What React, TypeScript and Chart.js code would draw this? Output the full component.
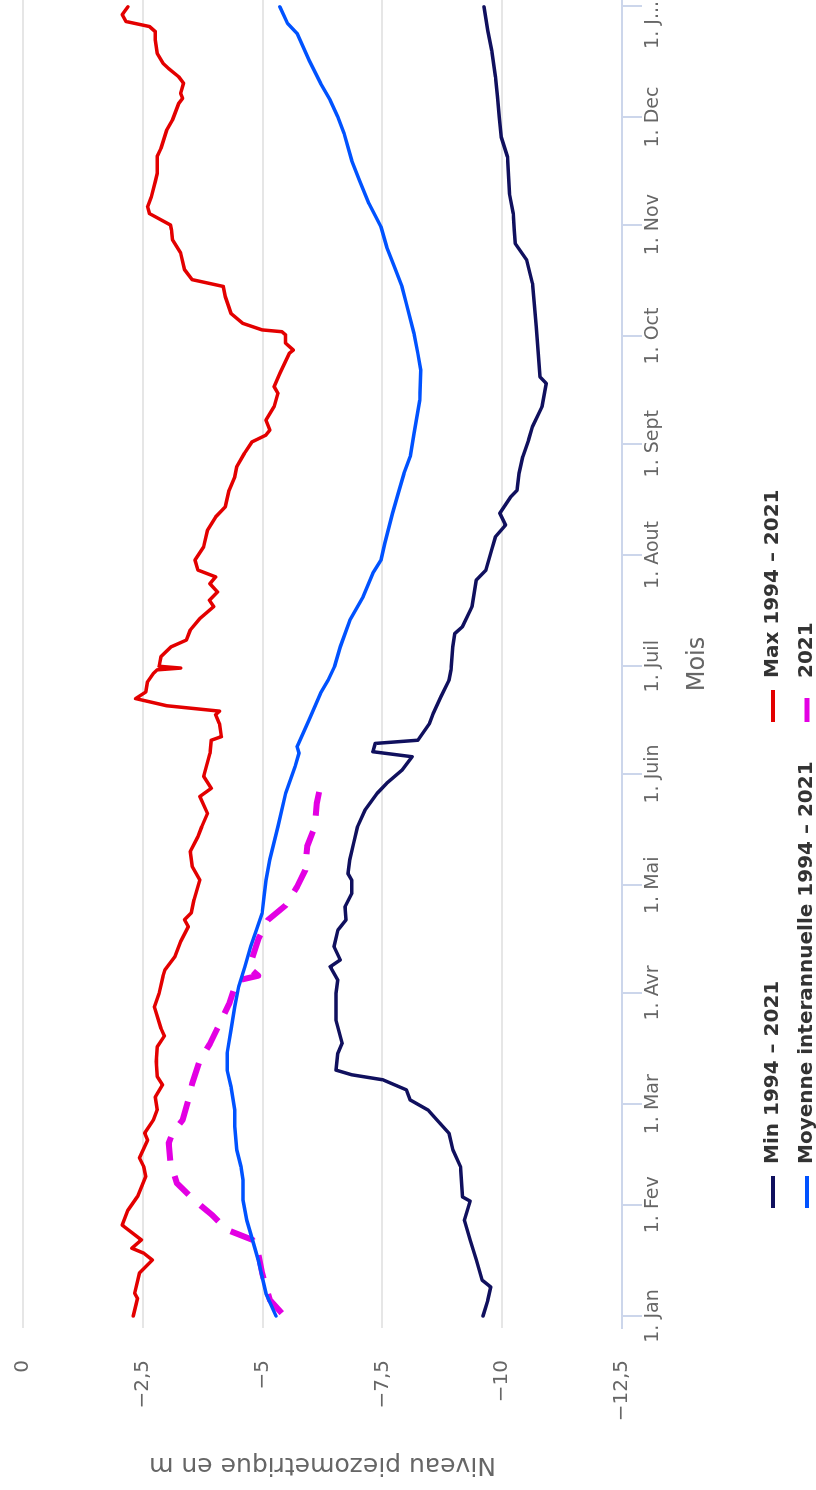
import React, { useEffect, useRef } from "react";
import { Chart, registerables } from "chart.js";

Chart.register(...registerables);

// Day of year (0 = 1 Jan) -> groundwater level (m)
const monthTickDays = [0, 31, 59, 90, 120, 151, 181, 212, 243, 273, 304, 334, 365];
const monthTickLabels = ["1. Jan", "1. Fev", "1. Mar", "1. Avr", "1. Mai", "1. Juin", "1. Juil", "1. Aout", "1. Sept", "1. Oct", "1. Nov", "1. Dec", "1. J..."];
const levelTicks = [0, -2.5, -5, -7.5, -10, -12.5];

const minSeries: [number, number][] = [
  [0, -9.6], [4.4, -9.7], [8.1, -9.76], [10, -9.58], [15.6, -9.46], [21.2, -9.33], [26.7, -9.21], [32, -9.33],
  [33.2, -9.17], [41.6, -9.13], [46.3, -8.97], [50.9, -8.89], [54.6, -8.64], [57.4, -8.45], [60.2, -8.08],
  [63, -8.0], [65.8, -7.51], [67.2, -6.86], [68.5, -6.53], [73.2, -6.57], [76, -6.66], [82.5, -6.53],
  [89.9, -6.53], [93.6, -6.57], [97.3, -6.41], [99.2, -6.62], [102.9, -6.49], [107.5, -6.57], [110.3, -6.74],
  [114, -6.72], [117.7, -6.86], [121.4, -6.86], [123.3, -6.78], [127.1, -6.82], [131.7, -6.9], [136.3, -6.98],
  [141, -7.14], [145.6, -7.39], [148.4, -7.59], [152.1, -7.91], [155.8, -8.12], [157.2, -7.3], [159.5, -7.35],
  [160.4, -8.24], [165, -8.48], [167.8, -8.56], [172.5, -8.72], [177.1, -8.89], [180, -8.93], [186.4, -8.97],
  [190.1, -9.01], [192, -9.17], [197.6, -9.37], [205, -9.46], [207.8, -9.66], [213.4, -9.78], [217.1, -9.86],
  [220.3, -10.07], [223.6, -9.95], [228.2, -10.18], [230, -10.31], [234.7, -10.35], [239.4, -10.43],
  [244, -10.55], [247.7, -10.63], [253.3, -10.83], [259.8, -10.92], [261.6, -10.79], [268.2, -10.75],
  [275.6, -10.71], [282.1, -10.67], [287.7, -10.63], [294.2, -10.51], [298.8, -10.27], [302.5, -10.25],
  [307.1, -10.23], [312.7, -10.15], [322.9, -10.11], [328.4, -9.98], [334, -9.94], [339.6, -9.9],
  [345.1, -9.86], [352.5, -9.78], [358.1, -9.7], [364.7, -9.62],
];

const maxSeries: [number, number][] = [
  [0, -2.3], [4.9, -2.39], [6.3, -2.33], [12, -2.43], [15.6, -2.7], [17.5, -2.52], [18.9, -2.27], [21.2, -2.47],
  [25.3, -2.07], [29.5, -2.19], [33.3, -2.39], [38.8, -2.56], [41.6, -2.52], [44, -2.43], [49, -2.6], [51, -2.54],
  [54.6, -2.72], [57.4, -2.8], [61, -2.76], [64.4, -2.91], [66.7, -2.8], [70.9, -2.78], [75, -2.8], [78, -2.95],
  [80.1, -2.88], [86.1, -2.74], [89.9, -2.84], [94.6, -2.92], [96.4, -2.96], [100.1, -3.17], [104.3, -3.29],
  [108.5, -3.45], [110.4, -3.37], [112.3, -3.51], [116, -3.57], [119.6, -3.65], [121.5, -3.69], [125.2, -3.53],
  [129.4, -3.49], [133.5, -3.65], [136.3, -3.73], [140, -3.85], [144.7, -3.69], [147, -3.93], [150.3, -3.77],
  [156.7, -3.9], [160.4, -3.93], [161.4, -4.14], [165, -4.1], [167.5, -4.02], [168.5, -4.1], [170, -3.0],
  [172, -2.35], [173.8, -2.56], [176.7, -2.6], [179, -2.72], [180, -2.8], [180.5, -3.29], [181, -2.84],
  [183.7, -2.88], [186.4, -3.09], [188.3, -3.41], [191.1, -3.49], [194.3, -3.69], [197.6, -3.98], [199.4, -3.89],
  [201.7, -4.06], [204, -3.9], [205.9, -4.02], [207.8, -3.65], [210.6, -3.59], [214.3, -3.77], [218.9, -3.85],
  [222.6, -4.02], [225.4, -4.22], [230, -4.3], [233.8, -4.42], [236.6, -4.46], [240.3, -4.62], [243.5, -4.78],
  [245.4, -5.07], [246.8, -5.15], [249.6, -5.07], [253.3, -5.24], [257, -5.32], [258.9, -5.24], [262.6, -5.36],
  [268.2, -5.56], [269.1, -5.64], [271, -5.48], [273.3, -5.48], [274.2, -5.4], [274.7, -4.99], [276.5, -4.59],
  [279.3, -4.34], [284, -4.22], [286.8, -4.18], [288.7, -3.53], [291.5, -3.37], [296.1, -3.29], [299.8, -3.12],
  [302.5, -3.1], [303.9, -3.08], [307.1, -2.64], [309, -2.6], [311.8, -2.68], [316, -2.76], [318.3, -2.8],
  [323, -2.8], [325.3, -2.88], [330.4, -3.0], [333.2, -3.12], [337.8, -3.25], [339.2, -3.33], [340.6, -3.29],
  [343.4, -3.35], [345.2, -3.25], [347.5, -3.04], [349, -2.92], [351.7, -2.8], [355.5, -2.76], [357.8, -2.76],
  [359.2, -2.64], [360.6, -2.15], [362.5, -2.07], [364.7, -2.19],
];

const meanSeries: [number, number][] = [
  [0, -5.28], [6.3, -5.07], [15.6, -4.91], [21.2, -4.79], [26.7, -4.67], [32.3, -4.59], [37.9, -4.59],
  [41.6, -4.55], [46.3, -4.46], [52.8, -4.42], [57.4, -4.42], [63.9, -4.34], [68.5, -4.26], [73.2, -4.26],
  [79.7, -4.34], [86.2, -4.42], [91.7, -4.5], [97.3, -4.63], [102.9, -4.75], [107.5, -4.87], [112.2, -4.99],
  [116.8, -5.03], [121.4, -5.07], [127.1, -5.15], [136.4, -5.32], [145.6, -5.48], [153.1, -5.68], [156.8, -5.76],
  [158.6, -5.72], [166.1, -5.97], [169.8, -6.09], [173.5, -6.21], [177.2, -6.37], [180.9, -6.5], [186.4, -6.62],
  [193.8, -6.82], [200.4, -7.1], [206.9, -7.3], [210.6, -7.47], [215.2, -7.55], [223.6, -7.71], [229.2, -7.83],
  [234.7, -7.95], [239.4, -8.08], [245.8, -8.16], [255.1, -8.28], [263.5, -8.3], [268.1, -8.24], [273.7, -8.16],
  [282, -8.0], [286.7, -7.91], [292.3, -7.75], [297.8, -7.59], [303.4, -7.47], [309.9, -7.22], [316.4, -7.02],
  [321.9, -6.86], [329.4, -6.7], [334, -6.57], [338.7, -6.41], [343.4, -6.21], [349.8, -5.97], [357.3, -5.72],
  [360.1, -5.52], [364.7, -5.36],
];

const series2021: [number, number][] = [
  [0.8, -5.4], [4.5, -5.15], [12, -4.99], [17.5, -4.91], [21.2, -4.79], [24, -4.26], [28.2, -3.94], [32.3, -3.57],
  [37, -3.21], [42.5, -3.08], [48.1, -3.04], [50.9, -3.12], [54.6, -3.33], [60.2, -3.45], [64.7, -3.53],
  [71.2, -3.69], [75.8, -3.9], [81.3, -4.1], [86.9, -4.3], [93.4, -4.46], [94.8, -4.91], [97, -4.72],
  [105, -4.91], [110.3, -5.11], [114.4, -5.48], [119.6, -5.72], [124.2, -5.89], [130.8, -5.93], [136.3, -6.09],
  [142.8, -6.13], [148, -6.21],
];

const seriesLabels = ["Min 1994 \u2013 2021", "Max 1994 \u2013 2021", "Moyenne interannuelle 1994 \u2013 2021", "2021"];

const W = 1490;
const H = 816;
const FONT = "'DejaVu Sans', sans-serif";
const X_TICK_SIZE = 19;
const Y_TICK_SIZE = 20;
const TICK_PAD = 0;
const TICK_LEN = 20;

const overlayPlugin = {
  id: "overlay",
  afterDraw(chart: any) {
    const { ctx } = chart;
    // legend (two aligned columns)
    const slots = [[282, 773], [768, 773], [282, 807], [768, 807]];
    chart.data.datasets.forEach((ds: any, i: number) => {
      const [lx, ly] = slots[i];
      ctx.save();
      ctx.strokeStyle = ds.borderColor;
      ctx.lineWidth = ds.borderDash ? 5 : 4;
      ctx.setLineDash(ds.borderDash || []);
      ctx.beginPath();
      ctx.moveTo(lx, ly);
      ctx.lineTo(lx + 32, ly);
      ctx.stroke();
      ctx.setLineDash([]);
      ctx.fillStyle = "#333333";
      ctx.font = `bold 20px ${FONT}`;
      ctx.textBaseline = "middle";
      ctx.textAlign = "left";
      ctx.fillText(ds.label, lx + 44, ly);
      ctx.restore();
    });
    // last (truncated) tick label, justified inside the canvas
    const xs = chart.scales.x;
    ctx.save();
    ctx.font = `${X_TICK_SIZE}px ${FONT}`;
    ctx.fillStyle = "#666666";
    ctx.textAlign = "right";
    ctx.textBaseline = "middle";
    ctx.fillText(monthTickLabels[monthTickLabels.length - 1], chart.width - 1, xs.top + TICK_LEN + TICK_PAD + X_TICK_SIZE * 0.6);
    ctx.restore();
  },
};

export default function App() {
  const ref = useRef<HTMLCanvasElement | null>(null);

  useEffect(() => {
    const canvas = ref.current;
    if (!canvas) return;
    const toPts = (s: [number, number][]) => s.map(([x, y]) => ({ x, y }));
    const chart = new Chart(canvas, {
      type: "line",
      data: {
        datasets: [
          { label: seriesLabels[0], data: toPts(minSeries), borderColor: "#10105e", borderWidth: 3.5 },
          { label: seriesLabels[1], data: toPts(maxSeries), borderColor: "#e30000", borderWidth: 3.5 },
          { label: seriesLabels[2], data: toPts(meanSeries), borderColor: "#0052ff", borderWidth: 3.5 },
          { label: seriesLabels[3], data: toPts(series2021), borderColor: "#e300e3", borderWidth: 6, borderDash: [24, 16], borderCapStyle: "butt" },
        ] as any,
      },
      options: {
        responsive: false,
        maintainAspectRatio: false,
        animation: false,
        devicePixelRatio: 1,
        parsing: false as any,
        normalized: true,
        layout: { padding: { top: 23, right: 0, bottom: 86, left: 0 } },
        elements: {
          point: { radius: 0 },
          line: { tension: 0, borderJoinStyle: "round", borderCapStyle: "round", fill: false },
        },
        plugins: {
          legend: { display: false },
          tooltip: { enabled: false },
        },
        scales: {
          x: {
            type: "linear",
            min: -3.34,
            max: 366.6,
            afterBuildTicks: (s: any) => {
              s.ticks = monthTickDays.map((v) => ({ value: v }));
            },
            afterFit: (s: any) => {
              s.height = 108;
              s.paddingLeft = 0;
              s.paddingRight = 0;
            },
            ticks: {
              autoSkip: false,
              maxRotation: 0,
              minRotation: 0,
              padding: TICK_PAD,
              color: "#666666",
              font: { family: FONT, size: X_TICK_SIZE },
              callback: (_v: any, i: number) => (i === monthTickDays.length - 1 ? "" : monthTickLabels[i]),
            },
            grid: { drawOnChartArea: false, drawTicks: true, tickLength: TICK_LEN, color: "#ccd6eb", lineWidth: 2 },
            border: { display: true, color: "#ccd6eb", width: 2 },
            title: {
              display: true,
              text: "Mois",
              color: "#666666",
              font: { family: FONT, size: 24 },
              padding: { top: 0, bottom: 18 },
            },
          },
          y: {
            min: -12.5,
            max: 0,
            afterBuildTicks: (s: any) => {
              s.ticks = levelTicks.map((v) => ({ value: v }));
            },
            afterFit: (s: any) => {
              s.width = 162;
              s.paddingTop = 0;
              s.paddingBottom = 0;
            },
            ticks: {
              padding: 32,
              color: "#666666",
              font: { family: FONT, size: Y_TICK_SIZE },
              callback: (v: any) => String(v).replace(".", ",").replace("-", "\u2212"),
            },
            grid: { color: "#e6e6e6", lineWidth: 2, drawTicks: false },
            border: { display: false },
            title: {
              display: true,
              text: "Niveau piezometrique en m",
              color: "#666666",
              font: { family: FONT, size: 25 },
              padding: { top: 10, bottom: 0 },
            },
          },
        },
      },
      plugins: [overlayPlugin],
    } as any);
    return () => chart.destroy();
  }, []);

  return (
    <div style={{ position: "absolute", left: 0, top: 0, width: 816, height: 1490, overflow: "hidden", background: "#ffffff" }}>
      <div
        style={{
          position: "absolute",
          left: 0,
          top: 0,
          width: W,
          height: H,
          transformOrigin: "0 0",
          transform: `translateY(${W}px) rotate(-90deg)`,
        }}
      >
        <canvas ref={ref} width={W} height={H} style={{ width: W, height: H, display: "block" }} />
      </div>
    </div>
  );
}
